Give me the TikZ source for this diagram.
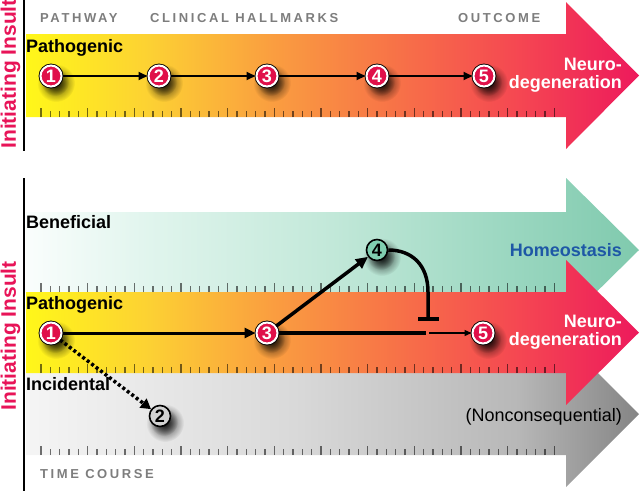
\documentclass[tikz,border=0pt]{standalone}
\usepackage{fontspec}
\setmainfont{Liberation Sans}
\newfontfamily\spacedfont[LetterSpace=20]{Liberation Sans}
\usetikzlibrary{arrows.meta,fadings,calc}

\definecolor{pinkc}{RGB}{224,16,74}
\definecolor{insultred}{RGB}{232,20,88}
\definecolor{homeblue}{RGB}{30,88,166}
\definecolor{headgray}{RGB}{125,125,125}
\definecolor{tealc}{RGB}{128,206,176}
\definecolor{grayc}{RGB}{210,210,210}

\tikzfading[name=softfade, inner color=transparent!0, outer color=transparent!100]

\pgfdeclarehorizontalshading{hotshade}{100bp}{rgb(0bp)=(1,0.97,0.1); rgb(25bp)=(1,0.97,0.1); rgb(35bp)=(0.99,0.82,0.2); rgb(45bp)=(0.98,0.62,0.25); rgb(55bp)=(0.97,0.45,0.28); rgb(65bp)=(0.96,0.28,0.32); rgb(75bp)=(0.93,0.1,0.36); rgb(100bp)=(0.93,0.1,0.36)}
\pgfdeclarehorizontalshading{tealshade}{100bp}{rgb(0bp)=(0.98,0.995,0.99); rgb(25bp)=(0.98,0.995,0.99); rgb(35bp)=(0.88,0.96,0.93); rgb(50bp)=(0.76,0.91,0.85); rgb(65bp)=(0.6,0.84,0.75); rgb(75bp)=(0.5,0.79,0.68); rgb(100bp)=(0.5,0.79,0.68)}
\pgfdeclarehorizontalshading{grayshade}{100bp}{rgb(0bp)=(0.96,0.96,0.96); rgb(25bp)=(0.96,0.96,0.96); rgb(47bp)=(0.85,0.85,0.85); rgb(65bp)=(0.72,0.72,0.72); rgb(75bp)=(0.52,0.52,0.52); rgb(100bp)=(0.52,0.52,0.52)}

\newcommand\cnode[4]{%
  \fill[shadowblob] ($(#3)+(5,7)$) circle[radius=19];
  \fill[shadowblob] ($(#3)+(4,6)$) circle[radius=14];
  \node[#1] (#2) at (#3) {#4};}

\begin{document}
\begin{tikzpicture}[x=1pt,y=-1pt,
  shadowblob/.style={fill=black, fill opacity=0.75, path fading=softfade},
  circbase/.style={circle, minimum size=21pt, inner sep=0pt,
    font=\bfseries\fontsize{18}{18}\selectfont},
  redcirc/.style={circbase, preaction={draw=black,line width=3.8pt}, fill=pinkc, draw=white, line width=2pt, text=white},
  tealcirc/.style={circbase, fill=tealc, draw=black, line width=1.6pt, text=black},
  graycirc/.style={circbase, fill=grayc, draw=black, line width=1.6pt, text=black},
  conn/.style={line width=2pt, -{Triangle[length=9pt,width=8pt]}},
  tick/.style={line width=1.3pt, draw=black, draw opacity=0.55},
  lab/.style={inner sep=0pt, font=\bfseries\fontsize{18}{18}\selectfont},
  hdr/.style={inner sep=0pt, anchor=base west, text=headgray, font=\spacedfont\bfseries\fontsize{13}{13}\selectfont},
  insult/.style={inner sep=0pt, anchor=base, rotate=90, text=insultred, font=\bfseries\fontsize{21}{21}\selectfont}
]
\useasboundingbox (0,0) rectangle (640,491);

% ---------- top panel ----------
\shade[shading=hotshade] (26,34) -- (566,34) -- (566,2) -- (639,75.5) -- (566,149) -- (566,117) -- (26,117) -- cycle;

% ---------- bottom panel bands ----------
\shade[shading=tealshade] (26,212) -- (566,212) -- (566,178) -- (639,250) -- (566,322) -- (566,292) -- (26,292) -- cycle;
\shade[shading=grayshade] (26,373) -- (566,373) -- (566,341) -- (639,414) -- (566,487) -- (566,455) -- (26,455) -- cycle;
\shade[shading=hotshade] (26,292) -- (566,292) -- (566,260) -- (639,332.5) -- (566,405) -- (566,373) -- (26,373) -- cycle;

% ticks
\foreach \yy in {117,292,373,455} {
  \foreach \k in {0,...,11} {
    \draw[tick] ({41+46.667*\k},\yy) -- ++(0,-9.5);
  }
  \foreach \k in {0,...,10} {
    \foreach \j in {1,...,4} {
      \draw[tick] ({41+46.667*\k+9.333*\j},\yy) -- ++(0,-6);
    }
  }
}

% vertical axis lines
\draw[line width=2pt] (24,0) -- (24,151);
\draw[line width=2pt] (24,178) -- (24,491);

% rotated labels
\node[insult] (ins1) at (16,74) {Initiating Insult};
\node[insult] (ins2) at (16,336) {Initiating Insult};

% headers
\node[hdr] (hp) at (40,22) {PATHWAY};
\node[hdr] (hc) at (150,22) {CLINICAL HALLMARKS};
\node[hdr] (ho) at (458,22) {OUTCOME};
\node[hdr] (ht) at (40,478) {TIME COURSE};

% band labels
\node[lab, anchor=base west] (lp1) at (26,52) {Pathogenic};
\node[lab, anchor=base west] (lb) at (26,228) {Beneficial};
\node[lab, anchor=base west] (lp2) at (26,309) {Pathogenic};
\node[lab, anchor=base west] (li) at (26,390) {Incidental};

% outcome labels
\node[lab, anchor=north east, align=right, text=white] (nd1) at (622,58) {Neuro-\\degeneration};
\node[lab, anchor=north east, align=right, text=white] (nd2) at (622,315) {Neuro-\\degeneration};
\node[lab, anchor=base east, text=homeblue] (home) at (622,256) {Homeostasis};
\node[inner sep=0pt, anchor=base east, font=\fontsize{18}{18}\selectfont] (nonc) at (622,421) {(Nonconsequential)};

% top circles
\cnode{redcirc}{t1}{51,76}{1}
\cnode{redcirc}{t2}{159,76}{2}
\cnode{redcirc}{t3}{267,76}{3}
\cnode{redcirc}{t4}{377,76}{4}
\cnode{redcirc}{t5}{484,76}{5}
\draw[conn] (t1) -- (t2);
\draw[conn] (t2) -- (t3);
\draw[conn] (t3) -- (t4);
\draw[conn] (t4) -- (t5);

% bottom circles
\cnode{redcirc}{b1}{51,333}{1}
\cnode{redcirc}{b3}{267,333}{3}
\cnode{redcirc}{b5}{483,333}{5}
\cnode{tealcirc}{b4}{377,250}{4}
\cnode{graycirc}{b2}{160,416}{2}

\coordinate (brk) at (426,333);
\coordinate (brk2) at (429,333);
\coordinate (bend) at (428,292);
\coordinate (barpt) at (428,321);

\draw[line width=3pt, -{Triangle[length=11pt,width=10pt]}] (b1) -- (b3);
\draw[line width=3.5pt, -{Triangle[length=12pt,width=11pt]}] (b3) -- (b4);
\draw[line width=4pt] (b3) -- (brk);
\draw[line width=1.3pt, -{Triangle[length=7pt,width=6pt]}] (brk2) -- (b5);
\draw[line width=3.5pt, -{Bar[width=21pt,line width=4pt]}] (b4.east) .. controls (412,250) and (428,265) .. (bend) -- (barpt);
\draw[line width=3.5pt, dash pattern=on 3pt off 2.6pt, -{Triangle[length=10pt,width=11pt]}] (b1) -- (b2);
\end{tikzpicture}
\end{document}
